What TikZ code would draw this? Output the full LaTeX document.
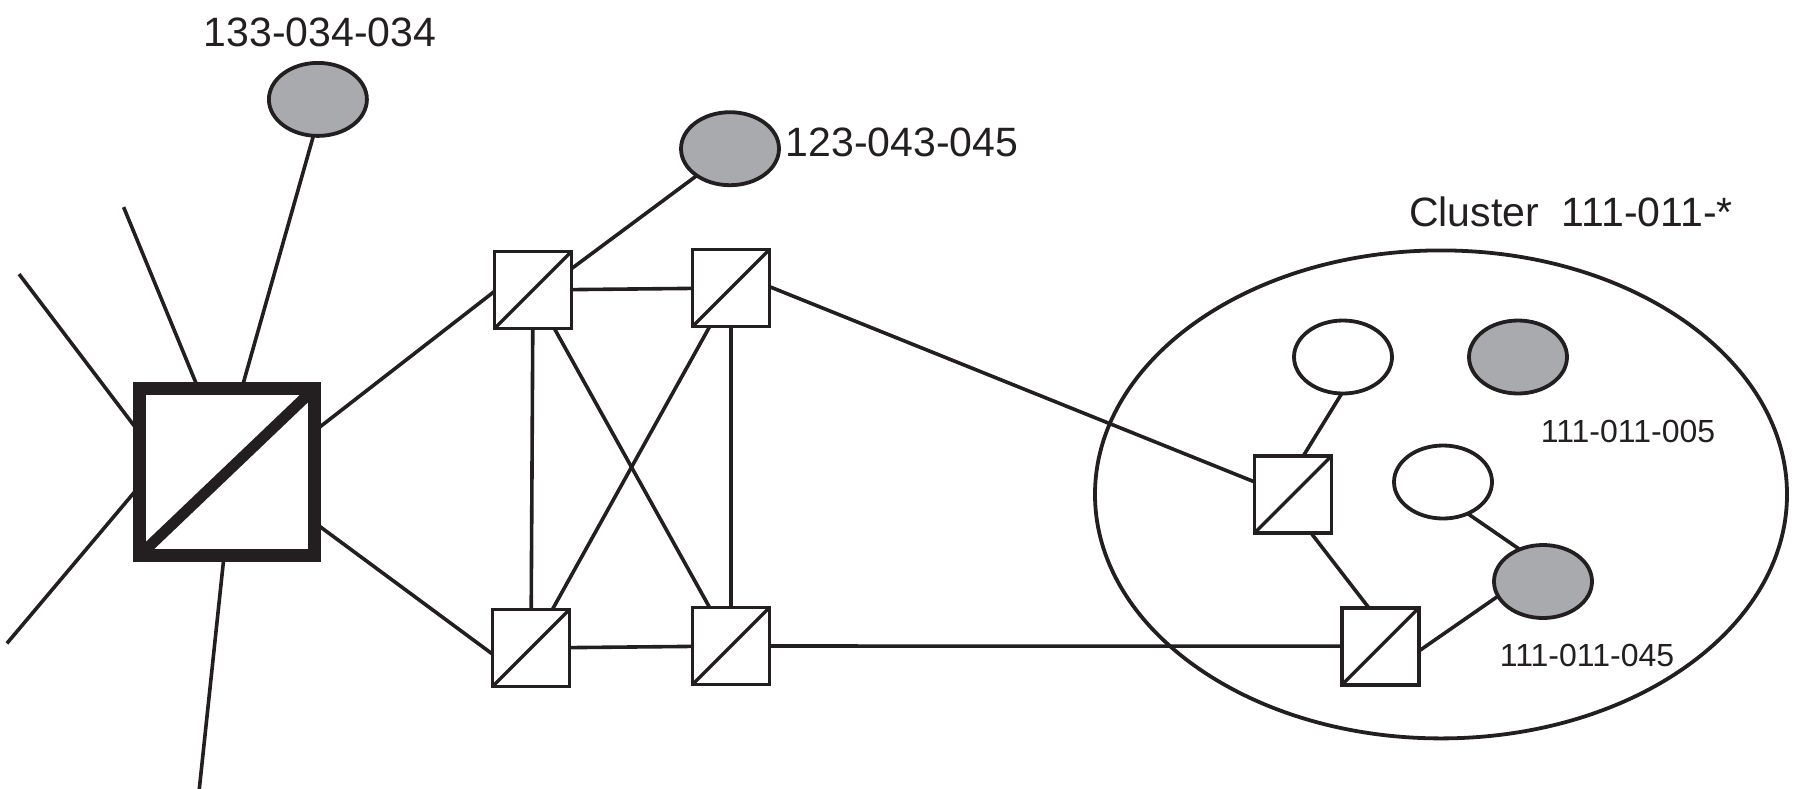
\documentclass[tikz,border=0pt]{standalone}
\usepackage{fontspec}
\setmainfont{Liberation Sans}
\usetikzlibrary{shapes.geometric}
\definecolor{ink}{RGB}{35,31,32}
\definecolor{nodegray}{RGB}{168,170,173}
\begin{document}
\begin{tikzpicture}[x=1pt,y=-1pt,
  conn/.style={draw=ink, line width=3.6pt},
  sqnode/.style={rectangle, draw=ink, line width=3.6pt, fill=white, minimum size=77pt, inner sep=0pt, outer sep=0pt,
    path picture={\draw[ink, line width=3.4pt] (path picture bounding box.south west) -- (path picture bounding box.north east);}},
  hubnode/.style={rectangle, draw=ink, line width=13pt, fill=white, minimum width=174.5pt, minimum height=166.5pt, inner sep=0pt, outer sep=0pt,
    path picture={\draw[ink, line width=11pt] (path picture bounding box.south west) -- (path picture bounding box.north east);}},
  hostgray/.style={ellipse, draw=ink, line width=3.8pt, fill=nodegray, minimum width=98pt, minimum height=73pt, inner sep=0pt, outer sep=0pt},
  hostwhite/.style={hostgray, fill=white},
  biglabel/.style={font=\fontsize{41}{49}\selectfont, inner sep=0pt, text=ink},
  smalllabel/.style={font=\fontsize{32}{38}\selectfont, inner sep=0pt, text=ink}
]
\useasboundingbox (0,0) rectangle (1797,788);

% cluster outline
\node[ellipse, draw=ink, line width=3.8pt, minimum width=692pt, minimum height=488pt, inner sep=0pt, outer sep=0pt] (cluster) at (1441,494.4) {};

% nodes
\node[hubnode] (hub) at (227,472) {};
\node[sqnode] (A) at (533,290) {};
\node[sqnode] (B) at (731,288) {};
\node[sqnode] (C) at (531,648) {};
\node[sqnode] (D) at (731,646) {};
\node[sqnode] (E) at (1293,494.4) {};
\node[sqnode] (F) at (1380.5,646.2) {};

\node[hostgray] (e133) at (317.9,99.4) {};
\node[hostgray] (e123) at (730,148.7) {};
\node[hostwhite] (w1) at (1343,357) {};
\node[hostgray] (g1) at (1518,357) {};
\node[hostwhite] (w2) at (1443,482) {};
\node[hostgray] (g2) at (1543,581.5) {};

% labels
\node[biglabel] (t133) at (320,32) {133-034-034};
\node[biglabel] (t123) at (902,142.4) {123-043-045};
\node[biglabel] (tcl) at (1571,211.7) {Cluster\ \ 111-011-*};
\node[smalllabel] (t005) at (1628,431) {111-011-005};
\node[smalllabel] (t045) at (1587,655.6) {111-011-045};

% free line ends
\coordinate (p1) at (19.1,274.1);
\coordinate (p2) at (123.6,207.1);
\coordinate (p4) at (6.9,643.4);
\coordinate (p5) at (199.2,790);

% connectors around the hub
\draw[conn] (p1) -- (hub.156);
\draw[conn] (p2) -- (hub.109.3);
\draw[conn] (e133.263) -- (hub.80);
\draw[conn] (p4) -- (hub.189.4);
\draw[conn] (p5) -- (hub.268.4);
\draw[conn] (hub.25.2) -- (A.182);
\draw[conn] (hub.330.2) -- (C.189.6);

% core mesh
\draw[conn] (e123.219) -- (A.29);
\draw[conn] (A) -- (B);
\draw[conn] (A) -- (C);
\draw[conn] (B) -- (D);
\draw[conn] (A) -- (D);
\draw[conn] (B) -- (C);
\draw[conn] (C) -- (D);

% to the cluster
\draw[conn] (B.2) -- (E.162.2);
\draw[conn] (D) -- (F);
\draw[conn] (E.75) -- (w1.268);
\draw[conn] (E.295) -- (F.107);
\draw[conn] (F.353) -- (g2.198);
\draw[conn] (w2.308) -- (g2.126);
\end{tikzpicture}
\end{document}
